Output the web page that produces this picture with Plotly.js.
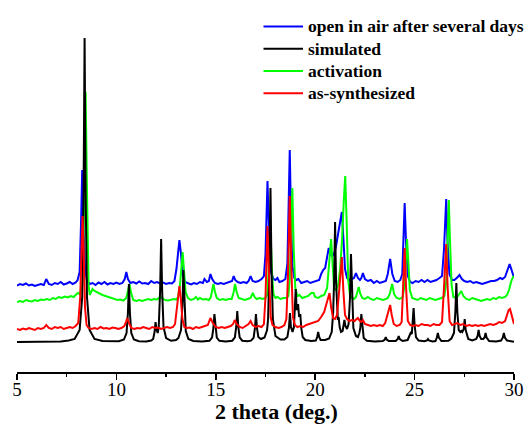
<!DOCTYPE html>
<html>
<head>
<meta charset="utf-8">
<script src="https://cdn.plot.ly/plotly-3.0.1.min.js"></script>
<style>
  html, body { margin: 0; padding: 0; background: #fff; }
  #chart { width: 531px; height: 429px; }
</style>
</head>
<body>
<div id="chart"></div>
<script>
// PXRD patterns, 2 theta (deg.) vs. intensity (a.u.), traced as [2theta, intensity] points.

// Open in air after several days
const openInAir = [
  [5.0,-1.5],[5.15,0],[5.3,-1],[5.45,0.5],[5.6,-1.5],[5.75,-0.5],[5.9,-2],[6.05,-1],[6.2,0],[6.35,-1],
  [6.47,5],[6.6,0],[6.75,-1],[6.9,1],[7.05,0],[7.2,2],[7.35,-0.5],[7.5,0.5],[7.65,2],[7.8,0],
  [7.95,1.5],[8.05,4],[8.15,12],[8.22,60],[8.28,114],[8.34,60],[8.42,15],[8.52,3],[8.65,0],[8.8,1],
  [8.95,-1],[9.1,1.5],[9.25,0],[9.4,2],[9.55,-0.5],[9.7,1],[9.85,0],[10.0,1.5],[10.15,0],[10.3,1],
  [10.42,5],[10.5,12],[10.58,5],[10.7,1],[10.85,2],[11.0,0.5],[11.15,2.5],[11.3,0.5],[11.45,1],[11.6,0],
  [11.75,3],[11.9,1],[12.05,2],[12.2,0.5],[12.35,1.5],[12.5,0],[12.65,1],[12.8,0.5],[12.92,3],[13.02,15],
  [13.1,35],[13.17,44],[13.25,30],[13.33,10],[13.45,2],[13.6,1],[13.75,-0.5],[13.9,1],[14.05,0],[14.2,2],
  [14.35,1],[14.43,5],[14.55,2],[14.65,3],[14.73,10],[14.82,5],[14.95,1],[15.1,0],[15.25,1],[15.4,0],
  [15.55,1],[15.7,2],[15.82,3],[15.9,8],[15.98,4],[16.1,2],[16.25,1],[16.4,2],[16.55,1],[16.65,3],
  [16.75,8],[16.85,3],[17.0,2],[17.15,3],[17.3,5],[17.42,8],[17.5,30],[17.6,103],[17.68,50],[17.78,12],
  [17.9,5],[18.0,4],[18.1,6],[18.2,2],[18.35,3],[18.5,5],[18.6,20],[18.66,75],[18.72,134],[18.78,70],
  [18.85,18],[18.95,6],[19.05,4],[19.15,5],[19.3,1],[19.45,2],[19.6,3],[19.75,1],[19.9,2],[20.05,3],
  [20.2,4],[20.3,10],[20.4,14],[20.5,16],[20.6,26],[20.68,36],[20.76,30],[20.85,28],[20.95,30],[21.05,38],
  [21.15,50],[21.25,62],[21.34,72],[21.42,45],[21.5,15],[21.6,6],[21.72,4],[21.85,5],[21.95,6],[22.05,11],
  [22.15,6],[22.25,4],[22.32,6],[22.4,11],[22.5,5],[22.65,3],[22.8,4],[22.95,1],[23.1,3],[23.25,1],
  [23.4,2],[23.55,3],[23.65,10],[23.77,25],[23.88,10],[24.0,3],[24.15,2],[24.28,4],[24.38,10],[24.44,40],
  [24.5,81],[24.57,40],[24.66,8],[24.78,2],[24.9,1],[25.05,3],[25.2,2],[25.35,4],[25.5,2],[25.65,4],
  [25.8,2],[25.95,3],[26.1,4],[26.25,6],[26.38,8],[26.48,35],[26.55,70],[26.59,85],[26.65,45],[26.75,10],
  [26.88,4],[27.0,4],[27.12,6],[27.26,9],[27.38,5],[27.5,3],[27.65,2],[27.8,3],[27.95,1],[28.1,2],
  [28.25,1],[28.4,0],[28.55,1],[28.7,2],[28.85,3],[29.0,3],[29.15,4],[29.3,6],[29.42,5],[29.55,7],
  [29.65,13],[29.78,20],[29.88,14],[30.0,6]
];

// Simulated from the single-crystal structure
const simulated = [
  [5.0,0],[6.5,0.2],[7.2,0.6],[7.6,1.5],[7.9,3],[8.15,12],[8.28,45],[8.35,152],[8.40,304],[8.45,152],
  [8.52,45],[8.65,12],[8.9,3],[9.3,1],[9.8,0.5],[10.13,0.8],[10.38,2.5],[10.51,9],[10.58,29],[10.63,58],
  [10.68,29],[10.75,9],[10.88,2.5],[11.13,0.8],[11.5,0.6],[11.75,1.5],[11.85,3],[11.92,10],[11.97,20],[12.02,12],
  [12.08,9],[12.13,15],[12.20,52],[12.25,103],[12.30,52],[12.37,15],[12.5,4],[12.75,1.2],[13.0,2],[13.12,4],
  [13.25,12],[13.32,36],[13.37,72],[13.42,36],[13.49,11],[13.62,3],[13.87,1],[14.3,0.4],[14.68,1.2],[14.81,4.3],
  [14.88,14],[14.93,28],[14.98,14],[15.05,4.3],[15.18,1.2],[15.5,0.4],[15.83,1.3],[15.96,4.6],[16.03,15.5],[16.08,31],
  [16.13,15.5],[16.20,4.6],[16.33,1.3],[16.6,0.7],[16.77,1.3],[16.90,4.2],[16.97,14],[17.02,28],[17.07,14],[17.14,5],
  [17.27,3],[17.45,4.5],[17.58,12],[17.63,23],[17.70,77],[17.75,154],[17.80,77],[17.87,23],[18.0,6],[18.25,2.5],
  [18.45,2.5],[18.6,5],[18.68,14.5],[18.73,29],[18.78,15],[18.86,10],[18.93,15],[18.97,27],[19.02,53],[19.07,32],
  [19.10,33],[19.14,38],[19.19,25],[19.25,28],[19.30,14],[19.37,5],[19.5,2],[19.8,1],[20.03,1.5],[20.10,5],
  [20.15,10],[20.20,5],[20.27,2],[20.5,2],[20.7,3.5],[20.83,10],[20.90,28],[20.95,60],[21.00,120],[21.05,60],
  [21.10,28],[21.14,22],[21.18,25],[21.23,15],[21.30,10],[21.38,11],[21.42,16],[21.47,22],[21.52,16],[21.60,13],
  [21.68,18],[21.75,44],[21.80,88],[21.85,44],[21.92,14],[22.05,6],[22.15,5],[22.22,9],[22.27,14],[22.32,28],
  [22.37,14],[22.44,4],[22.6,1.2],[23.0,0.4],[23.4,1],[23.50,2.5],[23.55,5],[23.60,2.5],[23.7,1],[24.05,1],
  [24.15,3],[24.20,6],[24.25,3],[24.4,1],[24.65,2],[24.75,6],[24.80,9],[24.86,8],[24.90,17],[24.95,34],
  [25.00,17],[25.07,5],[25.2,1.5],[25.5,0.7],[25.62,1.5],[25.67,3],[25.72,1.5],[25.9,0.5],[26.05,1],[26.12,4.5],
  [26.17,9],[26.22,4.5],[26.35,1],[26.7,1.2],[26.85,3.5],[26.98,9],[27.05,30],[27.10,59],[27.15,30],[27.22,12],
  [27.30,10],[27.35,11],[27.40,10],[27.47,13],[27.52,23],[27.57,12],[27.7,3],[27.9,1.5],[28.10,3],[28.17,6],
  [28.22,12],[28.27,6],[28.35,3],[28.45,3],[28.52,4.5],[28.57,9],[28.62,4.5],[28.75,1],[29.1,0.5],[29.35,1.5],
  [29.44,4.5],[29.49,9],[29.54,4.5],[29.65,1.5],[30.0,0.3]
];

// After activation
const activation = [
  [5.0,-2],[5.15,-1],[5.3,-2],[5.45,0],[5.6,-1],[5.75,-1.5],[5.9,0],[6.05,-1],[6.2,0.5],[6.35,0],
  [6.5,1],[6.65,0],[6.8,2],[6.95,1],[7.1,3],[7.25,2],[7.4,3.5],[7.55,2.5],[7.7,4],[7.85,3],
  [7.95,5],[8.05,7],[8.15,6],[8.3,15],[8.38,100],[8.45,208],[8.52,110],[8.6,15],[8.66,5],[8.72,8],
  [8.8,11],[8.9,9],[9.0,8],[9.15,6],[9.3,5],[9.45,4],[9.6,3],[9.75,2],[9.9,1.5],[10.05,0],
  [10.2,0.5],[10.35,-0.5],[10.5,2],[10.58,8],[10.66,16],[10.74,7],[10.85,0],[11.0,-1],[11.15,0],[11.3,-1],
  [11.45,0],[11.6,1],[11.75,0],[11.9,1],[12.05,0.5],[12.2,3],[12.3,2],[12.45,0],[12.6,-0.5],[12.75,0],
  [12.9,1],[13.0,0.5],[13.1,3],[13.2,15],[13.27,35],[13.33,48],[13.4,30],[13.48,8],[13.6,2],[13.75,0],
  [13.9,1],[14.0,3],[14.1,0.5],[14.2,2],[14.35,0.5],[14.5,1],[14.65,0],[14.75,3],[14.82,10],[14.88,16],
  [14.96,8],[15.05,2],[15.2,0],[15.35,1],[15.5,0],[15.65,1],[15.8,1],[15.9,8],[15.97,16],[16.05,8],
  [16.15,2],[16.3,1],[16.45,0],[16.6,1],[16.75,2],[16.86,7],[16.95,3],[17.05,1],[17.2,2],[17.35,1],
  [17.5,2],[17.6,6],[17.68,35],[17.75,71],[17.82,30],[17.9,6],[18.0,2],[18.1,3],[18.25,1],[18.4,2],
  [18.55,2],[18.65,4],[18.72,20],[18.78,60],[18.85,112],[18.92,50],[19.0,12],[19.1,4],[19.2,5],[19.35,2],
  [19.5,3],[19.65,4],[19.8,7],[19.92,7],[20.0,3],[20.15,2],[20.3,4],[20.45,5],[20.6,12],[20.7,35],
  [20.8,61],[20.88,35],[20.95,12],[21.05,10],[21.15,15],[21.25,30],[21.35,60],[21.44,100],[21.51,124],[21.58,80],
  [21.66,20],[21.75,5],[21.85,2],[21.95,1],[22.05,3],[22.12,8],[22.19,13],[22.27,6],[22.37,2],[22.5,1],
  [22.65,3],[22.8,1],[22.95,0],[23.1,2],[23.25,1],[23.4,0],[23.55,1],[23.65,2],[23.75,6],[23.87,16],
  [23.97,6],[24.1,2],[24.25,1],[24.4,3],[24.5,15],[24.56,40],[24.62,61],[24.68,40],[24.76,10],[24.88,2],
  [25.0,1],[25.15,0],[25.3,2],[25.45,1],[25.6,0],[25.75,2],[25.9,1],[26.05,0],[26.2,1],[26.35,2],
  [26.5,4],[26.6,20],[26.66,60],[26.72,100],[26.78,60],[26.86,15],[26.95,3],[27.1,2],[27.25,6],[27.35,9],
  [27.45,4],[27.6,1],[27.75,0],[27.9,2],[28.05,1],[28.2,0],[28.35,-1],[28.5,0],[28.65,1],[28.8,0],
  [28.95,2],[29.1,1],[29.25,3],[29.4,2],[29.55,3],[29.65,5],[29.75,10],[29.85,18],[29.95,23],[30.0,22]
];

// As-synthesized
const asSynthesized = [
  [5.0,-2],[5.15,-3],[5.3,-1.5],[5.45,-2.5],[5.6,-1],[5.75,-2],[5.9,-3],[6.05,-1],[6.2,-2],[6.35,-1],
  [6.47,2],[6.6,-1],[6.75,-2],[6.9,0],[7.05,-1],[7.2,0],[7.35,-2],[7.5,-1],[7.65,0],[7.8,-1],
  [7.95,1],[8.08,4],[8.18,30],[8.25,80],[8.30,111],[8.35,80],[8.42,20],[8.5,2],[8.6,-1],[8.75,-2],
  [8.9,-1],[9.05,-2],[9.2,0],[9.35,-1.5],[9.5,-1],[9.65,-2],[9.8,-0.5],[9.95,-1],[10.1,-2],[10.25,-1],
  [10.4,1],[10.48,5],[10.55,9],[10.63,4],[10.75,-1],[10.9,-2],[11.05,-1],[11.2,-1.5],[11.35,0],[11.5,-1],
  [11.65,-2],[11.8,0],[11.95,-1],[12.1,-0.5],[12.25,-2],[12.4,-1],[12.55,0],[12.7,-1],[12.85,0],[12.95,3],
  [13.03,15],[13.1,30],[13.17,41],[13.24,28],[13.32,8],[13.42,0],[13.55,-1],[13.7,-0.5],[13.85,-2],[14.0,0],
  [14.15,-1],[14.3,0],[14.45,1],[14.6,2],[14.73,9],[14.85,4],[15.0,0],[15.15,-1],[15.3,0],[15.45,-1],
  [15.6,0],[15.75,1],[15.87,3],[15.95,7],[16.05,3],[16.2,0],[16.35,-1],[16.5,1],[16.65,3],[16.75,6],
  [16.85,2],[17.0,0],[17.15,1],[17.3,0],[17.42,3],[17.5,30],[17.6,101],[17.68,50],[17.76,10],[17.85,2],
  [18.0,0],[18.15,-1],[18.3,0],[18.45,2],[18.55,8],[18.63,50],[18.72,131],[18.8,60],[18.88,10],[18.98,2],
  [19.1,0],[19.25,1],[19.4,0],[19.55,2],[19.7,3],[19.85,4],[20.0,5],[20.15,6],[20.3,10],[20.45,15],
  [20.55,22],[20.65,30],[20.72,34],[20.8,20],[20.9,9],[21.0,8],[21.1,12],[21.2,35],[21.28,60],[21.34,70],
  [21.42,35],[21.5,12],[21.6,8],[21.72,6],[21.85,7],[21.98,6],[22.08,8],[22.15,9],[22.25,6],[22.32,5],
  [22.4,7],[22.5,3],[22.65,2],[22.8,1],[22.95,2],[23.1,1],[23.25,2],[23.4,1],[23.52,4],[23.62,12],
  [23.72,20],[23.77,22],[23.85,12],[23.95,3],[24.1,1],[24.25,2],[24.35,5],[24.42,40],[24.5,79],[24.57,40],
  [24.66,6],[24.78,2],[24.9,1],[25.05,2],[25.2,1],[25.35,3],[25.5,2],[25.65,2],[25.8,1],[25.95,3],
  [26.1,2],[26.25,2],[26.38,5],[26.48,40],[26.55,75],[26.59,83],[26.66,40],[26.76,6],[26.88,2],[27.0,3],
  [27.15,4],[27.3,2],[27.45,3],[27.6,1],[27.75,2],[27.9,1],[28.05,2],[28.2,1],[28.35,2],[28.5,1],
  [28.65,2],[28.8,3],[28.95,2],[29.1,3],[29.25,5],[29.4,4],[29.55,6],[29.65,12],[29.73,17],[29.8,18],
  [29.88,12],[29.95,5],[30.0,3]
];

const seriesNames = ['open in air after several days', 'simulated', 'activation', 'as-synthesized'];
const xTickValues = [5, 10, 15, 20, 25, 30];
const xTitle = '2 theta (deg.)';

// stacking and styling for each pattern (legend order)
const styles = [
  { data: openInAir,     color: '#0000ff', shift: 88 },
  { data: simulated,     color: '#000000', shift: 30 },
  { data: activation,    color: '#00ff00', shift: 72 },
  { data: asSynthesized, color: '#ff0000', shift: 45 }
];
// drawing order: blue, green, black, red on top
const drawOrder = [0, 2, 1, 3];

const serif = '"Liberation Serif", "Times New Roman", serif';

const traces = drawOrder.map(i => {
  const s = styles[i];
  return {
    type: 'scatter',
    mode: 'lines',
    name: seriesNames[i],
    x: s.data.map(p => p[0]),
    y: s.data.map(p => p[1] + s.shift),
    line: { color: s.color, width: 2 },
    hoverinfo: 'x+name'
  };
});

const W = 531, H = 429;
const M = { l: 17, r: 17, t: 20, b: 57 };
const px2paperX = px => (px - M.l) / (W - M.l - M.r);
const px2paperY = py => (H - M.b - py) / (H - M.t - M.b);

// legend: short coloured line followed by the series name
const shapes = [];
const annotations = [];
const legendRows = [26.5, 48.8, 71, 93.2];
styles.forEach((s, i) => {
  shapes.push({
    type: 'line', xref: 'paper', yref: 'paper',
    x0: px2paperX(263.5), x1: px2paperX(303),
    y0: px2paperY(legendRows[i]), y1: px2paperY(legendRows[i]),
    line: { color: s.color, width: 2 }
  });
  annotations.push({
    xref: 'paper', yref: 'paper',
    x: px2paperX(306), y: px2paperY(legendRows[i]),
    xanchor: 'left', yanchor: 'middle',
    text: '<b>' + seriesNames[i] + '</b>',
    showarrow: false,
    font: { family: serif, size: 17.5, color: '#000' }
  });
});

// x-axis title
annotations.push({
  xref: 'paper', yref: 'paper',
  x: px2paperX(276.5), y: px2paperY(411),
  xanchor: 'center', yanchor: 'middle',
  text: '<b>' + xTitle + '</b>',
  showarrow: false,
  font: { family: serif, size: 22, color: '#000' }
});

const layout = {
  width: W, height: H,
  margin: M,
  paper_bgcolor: '#fff',
  plot_bgcolor: '#fff',
  showlegend: false,
  xaxis: {
    range: [5, 30],
    tickmode: 'array',
    tickvals: xTickValues,
    ticktext: xTickValues.map(String),
    ticks: 'outside', ticklen: 6, tickwidth: 1.5, tickcolor: '#000',
    ticklabelstandoff: -6,
    minor: { dtick: 2.5, tick0: 5, ticks: 'outside', ticklen: 3.5, tickwidth: 1.5, tickcolor: '#000', showgrid: false },
    showline: true, linewidth: 1.5, linecolor: '#000',
    showgrid: false, zeroline: false,
    tickfont: { family: serif, size: 19, color: '#000' },
    fixedrange: true
  },
  yaxis: {
    range: [0, H - M.t - M.b],
    visible: false,
    showgrid: false, zeroline: false,
    fixedrange: true
  },
  shapes: shapes,
  annotations: annotations
};

Plotly.newPlot('chart', traces, layout, { displayModeBar: false, staticPlot: true });
</script>
</body>
</html>
